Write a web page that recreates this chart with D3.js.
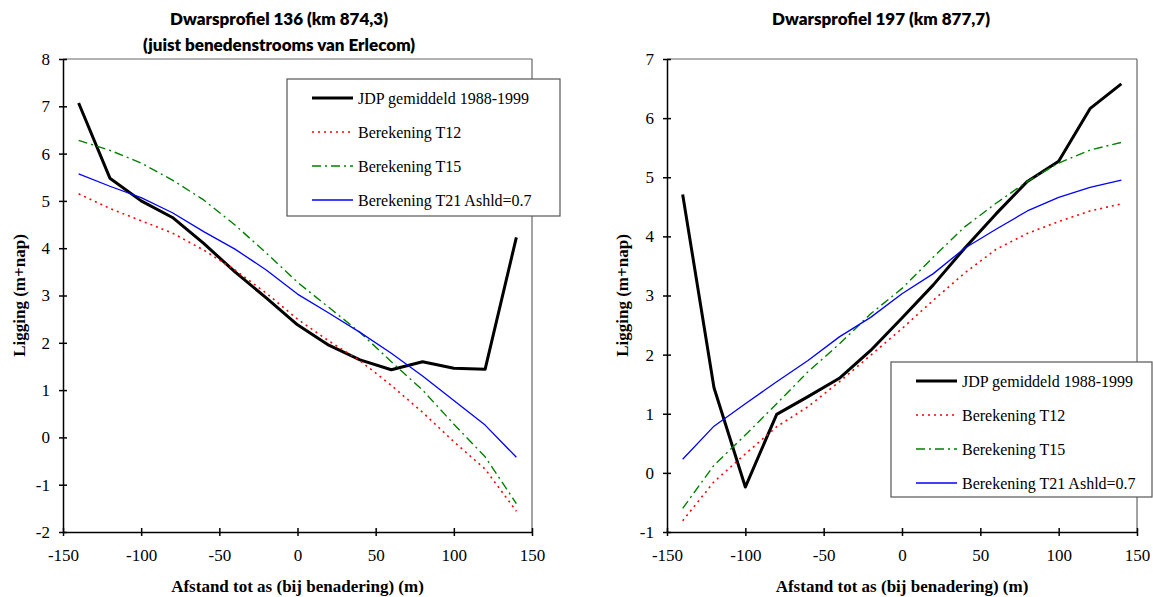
<!DOCTYPE html>
<html>
<head>
<meta charset="utf-8">
<script src="https://cdn.jsdelivr.net/npm/d3@7"></script>
<style>
  body { margin: 0; background: #fff; }
  svg text { fill: #000; }
  .tick text { font-family: "Liberation Serif", "Times New Roman", serif; font-size: 17px; }
</style>
</head>
<body>
<div id="chart"></div>
<script>
// afstand tot as (m)
const afstand = [-140, -120, -100, -80, -60, -40, -20, 0, 20, 40, 60, 80, 100, 120, 140]

// Dwarsprofiel 136
const dp136_jdp = [7.07, 5.48, 5.0, 4.65, 4.1, 3.5, 2.95, 2.38, 1.95, 1.64, 1.43, 1.6, 1.46, 1.44, 4.23]
const dp136_t12 = [5.15, 4.84, 4.58, 4.32, 3.96, 3.54, 3.05, 2.5, 2.04, 1.62, 1.1, 0.53, -0.09, -0.67, -1.56]
const dp136_t15 = [6.28, 6.07, 5.8, 5.44, 5.02, 4.49, 3.9, 3.28, 2.75, 2.22, 1.6, 1.0, 0.28, -0.41, -1.4]
const dp136_t21 = [5.57, 5.31, 5.07, 4.75, 4.35, 3.98, 3.54, 3.03, 2.63, 2.22, 1.78, 1.3, 0.78, 0.26, -0.42]

// Dwarsprofiel 197
const dp197_jdp = [4.71, 1.44, -0.24, 0.99, 1.29, 1.6, 2.07, 2.62, 3.18, 3.8, 4.38, 4.93, 5.27, 6.16, 6.58]
const dp197_t12 = [-0.81, -0.15, 0.32, 0.78, 1.12, 1.54, 1.99, 2.44, 2.92, 3.38, 3.78, 4.05, 4.25, 4.43, 4.55]
const dp197_t15 = [-0.6, 0.13, 0.64, 1.17, 1.71, 2.18, 2.69, 3.12, 3.65, 4.16, 4.56, 4.93, 5.24, 5.46, 5.59]
const dp197_t21 = [0.23, 0.79, 1.17, 1.54, 1.9, 2.3, 2.63, 3.03, 3.37, 3.8, 4.12, 4.43, 4.66, 4.83, 4.95]

const xTicks = [-150, -100, -50, 0, 50, 100, 150]
const seriesNames = ['JDP gemiddeld 1988-1999', 'Berekening T12', 'Berekening T15', 'Berekening T21 Ashld=0.7']

// lijnstijlen per serie
const styles = [
  { color: '#000', width: 3, dash: null },
  { color: '#ff0000', width: 1.6, dash: '2,4' },
  { color: '#008000', width: 1.4, dash: '9,4,2,4' },
  { color: '#0000ff', width: 1.3, dash: null }
]

const serifFont = '"Liberation Serif", "Times New Roman", serif'
const titleFont = 'Lato, "Open Sans", sans-serif'

let svg = d3.select('#chart').append('svg').attr('width', 1153).attr('height', 597)

function drawPanel (opt) {
  let g = svg.append('g')
  let x = d3.scaleLinear().domain([-150, 150]).range([opt.left, opt.right])
  let y = d3.scaleLinear().domain(opt.yDomain).range([opt.bottom, opt.top])
  let fmt = d => String(d)

  // kader boven en rechts
  g.append('line').attr('x1', opt.left).attr('x2', opt.right).attr('y1', opt.top).attr('y2', opt.top)
    .attr('stroke', '#666').attr('stroke-width', 1.2)
  g.append('line').attr('x1', opt.right).attr('x2', opt.right).attr('y1', opt.top).attr('y2', opt.bottom)
    .attr('stroke', '#666').attr('stroke-width', 1.2)

  // y-as
  let yAxis = d3.axisLeft(y).tickValues(d3.range(opt.yDomain[0], opt.yDomain[1] + 1))
    .tickFormat(fmt).tickSize(4).tickSizeOuter(0).tickPadding(9)
  let yg = g.append('g').attr('transform', 'translate(' + opt.left + ',0)').call(yAxis)
  yg.selectAll('.tick line').attr('x1', 4)

  // x-as
  let xAxis = d3.axisBottom(x).tickValues(xTicks).tickFormat(fmt).tickSize(4).tickSizeOuter(0).tickPadding(13)
  let xg = g.append('g').attr('transform', 'translate(0,' + opt.bottom + ')').call(xAxis)
  xg.selectAll('.tick line').attr('y1', -4)

  yg.attr('font-family', serifFont).attr('font-size', 17)
  xg.attr('font-family', serifFont).attr('font-size', 17)
  g.selectAll('.domain, .tick line').attr('stroke', '#000').attr('stroke-width', 1.5)

  // lijnen
  let line = d3.line().x((d, i) => x(afstand[i])).y(d => y(d))
  opt.series.forEach((s, i) => {
    g.append('path').datum(s).attr('d', line).attr('fill', 'none')
      .attr('stroke', styles[i].color).attr('stroke-width', styles[i].width)
      .attr('stroke-dasharray', styles[i].dash).attr('stroke-linejoin', 'round')
  })

  // titels
  opt.title.forEach((t, i) => {
    g.append('text').text(t).attr('x', opt.titleX).attr('y', 25 + i * 26)
      .attr('text-anchor', 'middle').attr('font-family', titleFont).attr('font-weight', 800).attr('font-size', 17)
  })
  g.append('text').text('Afstand tot as (bij benadering) (m)')
    .attr('x', (opt.left + opt.right) / 2).attr('y', 592).attr('text-anchor', 'middle')
    .attr('font-family', serifFont).attr('font-weight', 700).attr('font-size', 17)
  g.append('text').text('Ligging (m+nap)')
    .attr('transform', 'translate(' + opt.yLabelX + ',' + ((opt.top + opt.bottom) / 2) + ') rotate(-90)')
    .attr('text-anchor', 'middle').attr('dy', '0.35em')
    .attr('font-family', serifFont).attr('font-weight', 700).attr('font-size', 17)

  // legenda
  let lg = svg.append('g').attr('transform', 'translate(' + opt.legend.x + ',' + opt.legend.y + ')')
  lg.append('rect').attr('width', opt.legend.w).attr('height', opt.legend.h)
    .attr('fill', '#fff').attr('stroke', '#555').attr('stroke-width', 1.2)
  seriesNames.forEach((name, i) => {
    let yy = 19 + i * 34
    lg.append('line').attr('x1', 25).attr('x2', 66).attr('y1', yy).attr('y2', yy)
      .attr('stroke', styles[i].color).attr('stroke-width', styles[i].width)
      .attr('stroke-dasharray', styles[i].dash)
    lg.append('text').text(name).attr('x', 71).attr('y', yy).attr('dy', '0.35em')
      .attr('font-family', serifFont).attr('font-size', 16)
  })
}

drawPanel({
  left: 63, right: 532, top: 59, bottom: 532,
  yDomain: [-2, 8],
  series: [dp136_jdp, dp136_t12, dp136_t15, dp136_t21],
  title: ['Dwarsprofiel 136 (km 874,3)', '(juist benedenstrooms van Erlecom)'],
  titleX: 279,
  yLabelX: 19,
  legend: { x: 287, y: 79, w: 273, h: 137 }
})

drawPanel({
  left: 667, right: 1137, top: 59, bottom: 532,
  yDomain: [-1, 7],
  series: [dp197_jdp, dp197_t12, dp197_t15, dp197_t21],
  title: ['Dwarsprofiel 197 (km 877,7)'],
  titleX: 881,
  yLabelX: 622,
  legend: { x: 891, y: 362, w: 261, h: 135 }
})
</script>
</body>
</html>
